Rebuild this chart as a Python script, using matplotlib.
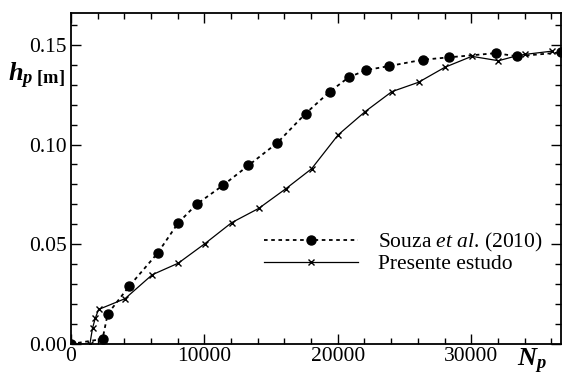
import matplotlib

matplotlib.use("Agg")
import matplotlib.pyplot as plt
from matplotlib.ticker import MultipleLocator, FormatStrFormatter

# --- data ---
souza_np = [0, 2370, 2750, 4370, 6490, 8040, 9410, 11390, 13300, 15460, 17580,
            19400, 20820, 22120, 23820, 26370, 28340, 31840, 33430, 36750]
souza_hp = [0.0, 0.0025, 0.0150, 0.0290, 0.0455, 0.0607, 0.0700, 0.0795, 0.0895,
            0.1008, 0.1155, 0.1265, 0.1337, 0.1373, 0.1393, 0.1425, 0.1437,
            0.1458, 0.1442, 0.1462]

present_np = [0, 1420, 1620, 1820, 2070, 4050, 6090, 8040, 10040, 12040, 14080,
              16100, 18030, 20020, 22050, 24050, 26050, 28020, 30040, 32040,
              33430, 34060, 36050]
present_hp = [0.0, 0.0, 0.0080, 0.0128, 0.0173, 0.0227, 0.0347, 0.0405, 0.0503,
              0.0608, 0.0680, 0.0778, 0.0878, 0.1048, 0.1165, 0.1265, 0.1312,
              0.1387, 0.1442, 0.1420, 0.1445, 0.1452, 0.1468]

plt.rcParams["font.family"] = "Liberation Serif"
plt.rcParams["mathtext.fontset"] = "custom"
plt.rcParams["mathtext.rm"] = "Liberation Serif"
plt.rcParams["mathtext.it"] = "Liberation Serif:italic"
plt.rcParams["mathtext.bf"] = "Liberation Serif:bold"
plt.rcParams["mathtext.bfit"] = "Liberation Serif:bold:italic"

fig = plt.figure(figsize=(5.63, 3.78), dpi=100)
ax = fig.add_axes([0.126, 0.09, 0.871, 0.876])

ax.plot(souza_np, souza_hp, color="black", linestyle=(0, (2.0, 2.0)), lw=1.3,
        marker="o", ms=6.5, label=r"Souza $\it{et}$ $\it{al}$. (2010)")
ax.plot(present_np, present_hp, color="black", lw=0.9, marker="x", ms=5,
        mew=1.0, label="Presente estudo")

ax.set_xlim(0, 36750)
ax.set_ylim(0, 0.166)
ax.xaxis.set_major_locator(MultipleLocator(10000))
ax.xaxis.set_minor_locator(MultipleLocator(2000))
ax.yaxis.set_major_locator(MultipleLocator(0.05))
ax.yaxis.set_minor_locator(MultipleLocator(0.01))
ax.yaxis.set_major_formatter(FormatStrFormatter("%.2f"))
ax.tick_params(which="both", direction="in", top=True, right=True,
               labelsize=15.5, width=1.0)
ax.tick_params(which="major", length=7, pad=2)
ax.tick_params(axis="y", which="major", pad=3)
ax.tick_params(which="minor", length=4)
for s in ax.spines.values():
    s.set_linewidth(1.3)

ax.text(-0.07, 0.81, r"$\mathbfit{h}_{\mathbfit{p}\ \mathbf{[m]}}$",
        transform=ax.transAxes, fontsize=19, ha="center", va="center")
ax.text(0.94, -0.052, r"$\mathbfit{N}_{\mathbfit{p}}$",
        transform=ax.transAxes, fontsize=19, ha="center", va="center")

ax.legend(loc="center left", bbox_to_anchor=(0.393, 0.275), frameon=False,
          fontsize=15.5, handlelength=4.4, handletextpad=0.9, borderpad=0,
          borderaxespad=0, labelspacing=0.0, numpoints=1)

fig.savefig("out.png", dpi=100)
